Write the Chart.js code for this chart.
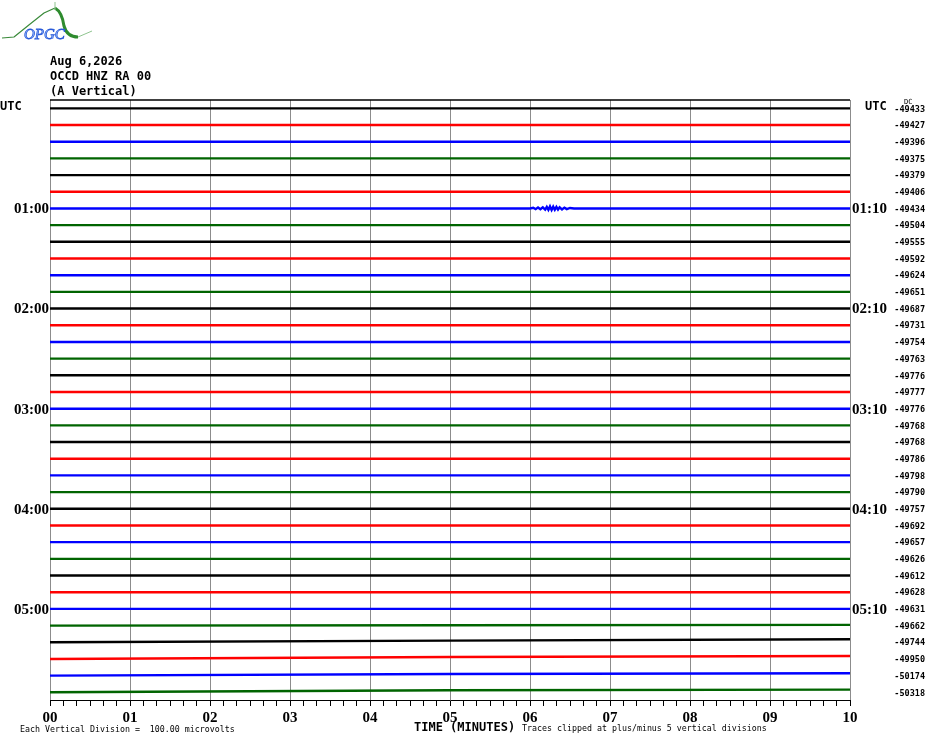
<!DOCTYPE html>
<html>
<head>
<meta charset="utf-8">
<script src="https://cdn.jsdelivr.net/npm/chart.js@4"></script>
<style>
  html, body { margin: 0; padding: 0; background: #fff; }
  #wrap { width: 930px; height: 744px; position: relative; }
</style>
</head>
<body>
<div id="wrap"><canvas id="heli"></canvas></div>
<script>
// one helicorder row = 10 minutes, rows stacked downward, 1 unit = one row spacing
const titleLines = ['Aug 6,2026', 'OCCD HNZ RA 00', '(A Vertical)'];
const traceColors = ['#000000', '#ff0000', '#0000ff', '#006400'];
const sampleMinutes = [0, 5, 10];

// slow drift of each row (in row spacings, positive = up), read at 0, 5 and 10 min
const driftAt5 = [0,0,0,0,0,0,0,0,0,0,0,0,0,0,0,0,0,0,0,0,0,0,0,0,0,0,0,0,0,0,0,0.02,0.10,0.12,0.10,0.12];
const driftAt10 = [0,0,0,0,0,0,0,0,0,0,0,0,0,0,0,0,0,0,0,0,0,0,0,0,0,0,0,0,0,0,0,0.04,0.18,0.18,0.14,0.16];

// small local event on row 6 (01:00 row) around minute 6
const eventRow = 6;
const eventMinutes = [6.00, 6.04, 6.07, 6.10, 6.13, 6.16, 6.19, 6.21, 6.23, 6.25, 6.27, 6.29,
  6.31, 6.33, 6.35, 6.37, 6.40, 6.43, 6.46, 6.50, 6.55];
const eventOffsets = [0, 0.04, -0.04, 0.06, -0.05, 0.07, -0.07, 0.09, -0.08, 0.12, -0.09, 0.11,
  -0.08, 0.09, -0.07, 0.07, -0.06, 0.05, -0.04, 0.03, 0];

const dcValues = [-49433, -49427, -49396, -49375, -49379, -49406, -49434, -49504, -49555, -49592,
  -49624, -49651, -49687, -49731, -49754, -49763, -49776, -49777, -49776, -49768,
  -49768, -49786, -49798, -49790, -49757, -49692, -49657, -49626, -49612, -49628,
  -49631, -49662, -49744, -49950, -50174, -50318];

const hourRows = [0, 6, 12, 18, 24, 30];
const leftHourLabels = ['UTC', '01:00', '02:00', '03:00', '04:00', '05:00'];
const rightHourLabels = ['UTC', '01:10', '02:10', '03:10', '04:10', '05:10'];

const bottomLeftNote = 'Each Vertical Division =  100.00 microvolts';
const bottomAxisTitle = 'TIME (MINUTES)';
const bottomRightNote = 'Traces clipped at plus/minus 5 vertical divisions';

function isWholeMinute(v) {
    return Math.abs(v - Math.round(v)) < 1e-6;
}

function buildDatasets() {
    return dcValues.map((dc, i) => {
        const levels = [0, driftAt5[i], driftAt10[i]];
        let pts = sampleMinutes.map((m, k) => ({ x: m, y: -i + levels[k] }));
        if (i === eventRow) {
            const ev = eventMinutes.map((m, k) => ({ x: m, y: -i + eventOffsets[k] }));
            pts = pts.concat(ev).sort((a, b) => a.x - b.x);
        }
        return {
            label: 'row ' + i,
            data: pts,
            borderColor: traceColors[i % 4],
            borderWidth: 2.4,
            pointRadius: 0,
            tension: 0,
            fill: false
        };
    });
}

const heliText = {
    id: 'heliText',
    afterDraw(chart) {
        const ctx = chart.ctx;
        const area = chart.chartArea;
        const ys = chart.scales.y;
        ctx.save();

        // top frame line
        ctx.strokeStyle = '#000';
        ctx.lineWidth = 1.5;
        ctx.beginPath();
        ctx.moveTo(area.left, area.top);
        ctx.lineTo(area.right, area.top);
        ctx.stroke();

        // logo
        ctx.strokeStyle = '#3a8a3a';
        ctx.lineWidth = 1.2;
        ctx.beginPath();
        ctx.moveTo(2, 38);
        ctx.lineTo(14, 37);
        ctx.quadraticCurveTo(30, 24, 44, 13);
        ctx.lineTo(55, 8);
        ctx.stroke();
        ctx.strokeStyle = '#2e8b2e';
        ctx.lineWidth = 3;
        ctx.beginPath();
        ctx.moveTo(55, 8);
        ctx.quadraticCurveTo(62, 12, 64, 26);
        ctx.quadraticCurveTo(67, 37, 78, 37);
        ctx.stroke();
        ctx.strokeStyle = '#8fc48f';
        ctx.lineWidth = 1;
        ctx.beginPath();
        ctx.moveTo(78, 37);
        ctx.lineTo(92, 31);
        ctx.moveTo(55, 2);
        ctx.lineTo(55, 10);
        ctx.stroke();
        ctx.font = 'italic 15px "Liberation Serif"';
        ctx.fillStyle = '#9cc0ff';
        ctx.strokeStyle = '#2a5ad8';
        ctx.lineWidth = 0.8;
        ctx.textBaseline = 'middle';
        ctx.textAlign = 'left';
        ctx.fillText('OPGC', 24, 35);
        ctx.strokeText('OPGC', 24, 35);

        // header
        ctx.fillStyle = '#000';
        ctx.font = 'bold 12px "DejaVu Sans Mono"';
        titleLines.forEach((t, k) => ctx.fillText(t, 50, 62 + k * 15));

        // hour labels
        hourRows.forEach((r, k) => {
            const y = ys.getPixelForValue(-r);
            if (k === 0) {
                ctx.font = 'bold 12px "DejaVu Sans Mono"';
                ctx.textAlign = 'left';
                ctx.fillText(leftHourLabels[k], 0, y - 1);
                ctx.fillText(rightHourLabels[k], 865, y - 1);
            } else {
                ctx.font = 'bold 15px "Liberation Serif"';
                ctx.textAlign = 'right';
                ctx.fillText(leftHourLabels[k], 49, y + 1);
                ctx.textAlign = 'left';
                ctx.fillText(rightHourLabels[k], 852, y + 1);
            }
        });

        // DC levels
        ctx.font = 'bold 8.5px "DejaVu Sans Mono"';
        ctx.textAlign = 'right';
        dcValues.forEach((v, i) => {
            ctx.fillText(String(v), 925, ys.getPixelForValue(-i) + 1);
        });
        ctx.font = '7px "DejaVu Sans Mono"';
        ctx.textAlign = 'left';
        ctx.fillText('DC', 904, 102);

        // bottom notes
        ctx.font = 'bold 12px "DejaVu Sans Mono"';
        ctx.fillText(bottomAxisTitle, 414, 728);
        ctx.font = '8.3px "DejaVu Sans Mono"';
        ctx.fillText(bottomRightNote, 522, 729);
        ctx.fillText(bottomLeftNote, 20, 730);
        ctx.restore();
    }
};

new Chart(document.getElementById('heli').getContext('2d'), {
    type: 'line',
    data: { datasets: buildDatasets() },
    options: {
        responsive: true,
        maintainAspectRatio: false,
        animation: false,
        layout: { padding: { left: 50, right: 80, top: 100, bottom: 0 } },
        plugins: { legend: { display: false }, tooltip: { enabled: false } },
        scales: {
            x: {
                type: 'linear',
                min: 0,
                max: 10,
                afterBuildTicks(scale) {
                    scale.ticks = Array.from({ length: 61 }, (_, k) => ({ value: k / 6 }));
                },
                afterFit(scale) {
                    scale.height = 44;
                },
                ticks: {
                    autoSkip: false,
                    maxRotation: 0,
                    padding: 3,
                    color: '#000',
                    font: { family: 'Liberation Serif', size: 15, weight: 'bold' },
                    callback: (v) => isWholeMinute(v) ? String(Math.round(v)).padStart(2, '0') : ''
                },
                grid: {
                    color: (c) => (c.tick && isWholeMinute(c.tick.value)) ? '#8c8c8c' : 'rgba(0,0,0,0)',
                    tickColor: '#000',
                    tickLength: 6,
                    lineWidth: 1
                },
                border: { display: true, color: '#000', width: 1 }
            },
            y: {
                type: 'linear',
                display: false,
                min: -35.46,
                max: 0.5
            }
        }
    },
    plugins: [heliText]
});
</script>
</body>
</html>
